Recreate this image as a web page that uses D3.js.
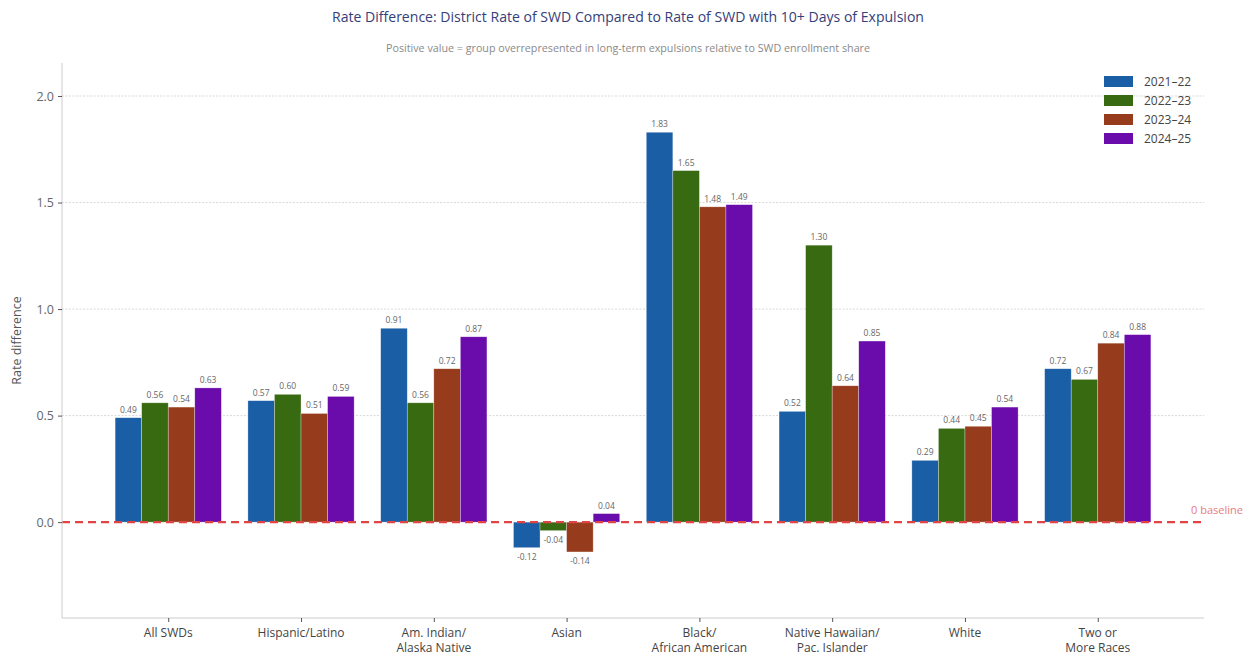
<!DOCTYPE html>
<html>
<head>
<meta charset="utf-8">
<script src="https://cdn.jsdelivr.net/npm/d3@7/dist/d3.min.js"></script>
<style>
  html, body { margin: 0; padding: 0; background: #fff; }
  svg { display: block; font-family: "Open Sans", "DejaVu Sans", sans-serif; }
</style>
</head>
<body>
<svg id="chart" width="1250" height="656"></svg>
<script>
// Student groups (x categories); "\n" splits a label over two lines
const categories = [
  "All SWDs",
  "Hispanic/Latino",
  "Am. Indian/\nAlaska Native",
  "Asian",
  "Black/\nAfrican American",
  "Native Hawaiian/\nPac. Islander",
  "White",
  "Two or\nMore Races"
];

// School years (series)
const years = ["2021\u201322", "2022\u201323", "2023\u201324", "2024\u201325"];
const yearColors = ["#1a5ea6", "#386a11", "#963c1c", "#6a0bab"];

// Rate difference per group, one array per year
const values2122 = [0.49, 0.57, 0.91, -0.12, 1.83, 0.52, 0.29, 0.72];
const values2223 = [0.56, 0.60, 0.56, -0.04, 1.65, 1.30, 0.44, 0.67];
const values2324 = [0.54, 0.51, 0.72, -0.14, 1.48, 0.64, 0.45, 0.84];
const values2425 = [0.63, 0.59, 0.87, 0.04, 1.49, 0.85, 0.54, 0.88];
const seriesValues = [values2122, values2223, values2324, values2425];

const yTicks = [0.0, 0.5, 1.0, 1.5, 2.0];

const svg = d3.select("#chart");
const margin = { left: 62, right: 46, top: 63, bottom: 38 };
const W = 1250, H = 656;
const plotL = margin.left, plotR = W - margin.right;
const plotT = margin.top, plotB = H - margin.bottom;

// Category index axis with 0.8 padding on each side
const x = d3.scaleLinear().domain([-0.8, categories.length - 1 + 0.8]).range([plotL, plotR]);
const y = d3.scaleLinear().domain([-0.45, 2.155]).range([plotB, plotT]);
const groupWidth = 0.8;
const barW = groupWidth / years.length;

// Title and subtitle
svg.append("text")
  .attr("x", 628).attr("y", 22)
  .attr("text-anchor", "middle")
  .attr("font-size", 14)
  .attr("fill", "#34407a")
  .attr("textLength", 592)
  .attr("lengthAdjust", "spacingAndGlyphs")
  .text("Rate Difference: District Rate of SWD Compared to Rate of SWD with 10+ Days of Expulsion");

svg.append("text")
  .attr("x", 628).attr("y", 52)
  .attr("text-anchor", "middle")
  .attr("font-size", 11)
  .attr("fill", "#8a8a8a")
  .attr("textLength", 484)
  .attr("lengthAdjust", "spacingAndGlyphs")
  .text("Positive value = group overrepresented in long-term expulsions relative to SWD enrollment share");

// Horizontal grid lines
svg.append("g")
  .selectAll("line")
  .data(yTicks.filter(t => t !== 0))
  .join("line")
  .attr("x1", plotL).attr("x2", plotR)
  .attr("y1", d => y(d)).attr("y2", d => y(d))
  .attr("stroke", "#c8c8c8")
  .attr("stroke-width", 0.7)
  .attr("stroke-dasharray", "2,1.5");

// Bars
const bars = svg.append("g");
seriesValues.forEach((vals, s) => {
  const off = -groupWidth / 2 + s * barW;
  bars.append("g")
    .selectAll("rect")
    .data(vals)
    .join("rect")
    .attr("x", (d, i) => x(i + off))
    .attr("width", x(barW) - x(0))
    .attr("y", d => y(Math.max(0, d)))
    .attr("height", d => Math.abs(y(d) - y(0)))
    .attr("fill", yearColors[s])
    .attr("stroke", "#ffffff")
    .attr("stroke-opacity", 0.5)
    .attr("stroke-width", 0.6);
});

// Value labels
const labels = svg.append("g")
  .attr("font-size", 8.5)
  .attr("fill", "#666")
  .attr("text-anchor", "middle");
seriesValues.forEach((vals, s) => {
  const off = -groupWidth / 2 + s * barW + barW / 2;
  labels.append("g")
    .selectAll("text")
    .data(vals)
    .join("text")
    .attr("x", (d, i) => x(i + off))
    .attr("y", d => d >= 0 ? y(d) - 5 : y(d) + 12)
    .text(d => d.toFixed(2));
});

// Zero baseline
svg.append("line")
  .attr("x1", plotL).attr("x2", plotR)
  .attr("y1", y(0)).attr("y2", y(0))
  .attr("stroke", "#e04444")
  .attr("stroke-width", 2.2)
  .attr("stroke-dasharray", "8,5");
svg.append("text")
  .attr("x", 1243).attr("y", y(0) - 8)
  .attr("text-anchor", "end")
  .attr("font-size", 11)
  .attr("fill", "#e87c7c")
  .text("0 baseline");

// Y axis
const yAxis = svg.append("g")
  .attr("transform", `translate(${plotL},0)`)
  .call(d3.axisLeft(y).tickValues(yTicks).tickFormat(d3.format(".1f")).tickSize(4).tickPadding(4));
yAxis.select(".domain").attr("stroke", "#cccccc").attr("d", `M0,${plotT}V${plotB}`);
yAxis.selectAll(".tick line").attr("stroke", "#555");
yAxis.selectAll(".tick text").attr("font-size", 12.5).attr("fill", "#666").attr("font-family", "Open Sans, sans-serif");

// X axis
const xAxis = svg.append("g")
  .attr("transform", `translate(0,${plotB})`)
  .call(d3.axisBottom(x).tickValues(d3.range(categories.length)).tickFormat("").tickSize(4));
xAxis.select(".domain").attr("stroke", "#cccccc").attr("d", `M${plotL},0H${plotR}`);
xAxis.selectAll(".tick line").attr("stroke", "#555");

svg.append("g")
  .selectAll("text")
  .data(categories)
  .join("text")
  .attr("x", (d, i) => x(i))
  .attr("y", plotB + 19)
  .attr("text-anchor", "middle")
  .attr("font-size", 12)
  .attr("fill", "#444")
  .each(function(d) {
    const lines = d.split("\n");
    d3.select(this).selectAll("tspan")
      .data(lines)
      .join("tspan")
      .attr("x", d3.select(this).attr("x"))
      .attr("dy", (l, j) => j === 0 ? 0 : 14.5)
      .text(l => l);
  });

// Y axis title
svg.append("text")
  .attr("transform", `translate(21,${(plotT + plotB) / 2}) rotate(-90)`)
  .attr("text-anchor", "middle")
  .attr("font-size", 12.5)
  .attr("fill", "#555")
  .text("Rate difference");

// Legend
const legend = svg.append("g").attr("transform", "translate(1104,76)");
years.forEach((yr, s) => {
  const g = legend.append("g").attr("transform", `translate(0,${s * 19})`);
  g.append("rect").attr("width", 29).attr("height", 11).attr("fill", yearColors[s]);
  g.append("text").attr("x", 40).attr("y", 10).attr("font-size", 12).attr("fill", "#444").text(yr);
});
</script>
</body>
</html>
